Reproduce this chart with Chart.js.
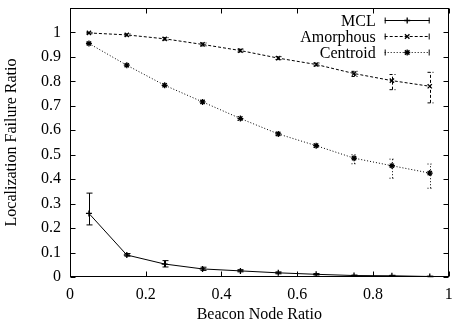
<!DOCTYPE html>
<html>
<head>
<meta charset="utf-8">
<script src="https://cdn.jsdelivr.net/npm/chart.js@4/dist/chart.umd.min.js"></script>
<style>
  html, body { margin: 0; padding: 0; background: #fff; }
  #wrap { width: 454px; height: 327px; }
</style>
</head>
<body>
<div id="wrap"><canvas id="c" width="454" height="327"></canvas></div>
<script>
// ---- data ----
const beaconRatio = [0.05, 0.15, 0.25, 0.35, 0.45, 0.55, 0.65, 0.75, 0.85, 0.95];

const mclValues = [0.26, 0.09, 0.053, 0.033, 0.025, 0.017, 0.011, 0.006, 0.005, 0.002];
const mclLow    = [0.213, 0.085, 0.041, 0.027, 0.021, 0.013, 0.008, 0.004, 0.003, 0.001];
const mclHigh   = [0.343, 0.096, 0.067, 0.040, 0.030, 0.021, 0.014, 0.008, 0.007, 0.003];

const amorphousValues = [0.998, 0.990, 0.974, 0.951, 0.926, 0.895, 0.869, 0.832, 0.803, 0.780];
const amorphousLow    = [0.995, 0.986, 0.969, 0.945, 0.920, 0.889, 0.863, 0.820, 0.766, 0.712];
const amorphousHigh   = [1.000, 0.994, 0.979, 0.957, 0.932, 0.901, 0.875, 0.841, 0.828, 0.837];

const centroidValues = [0.955, 0.866, 0.784, 0.716, 0.648, 0.585, 0.537, 0.486, 0.455, 0.425];
const centroidLow    = [0.950, 0.861, 0.778, 0.710, 0.640, 0.578, 0.530, 0.463, 0.404, 0.363];
const centroidHigh   = [0.960, 0.871, 0.790, 0.722, 0.656, 0.592, 0.544, 0.500, 0.482, 0.462];

const seriesNames = ['MCL', 'Amorphous', 'Centroid'];

const xTickValues = [0, 0.2, 0.4, 0.6, 0.8, 1];
const xTickLabels = ['0', '0.2', '0.4', '0.6', '0.8', '1'];
const yTickValues = [0, 0.1, 0.2, 0.3, 0.4, 0.5, 0.6, 0.7, 0.8, 0.9, 1];
const yTickLabels = ['0', '0.1', '0.2', '0.3', '0.4', '0.5', '0.6', '0.7', '0.8', '0.9', '1'];

const xTitle = 'Beacon Node Ratio';
const yTitle = 'Localization Failure Ratio';

// ---- build ----
function pts(vals) { return beaconRatio.map((x, i) => ({ x: x, y: vals[i] })); }

const FONT = "'Liberation Serif', 'Times New Roman', serif";
Chart.defaults.font.family = FONT;
Chart.defaults.font.size = 16;
Chart.defaults.color = '#000';

const styles = [
  { dash: [], point: 'cross' },
  { dash: [3, 2], point: 'crossRot' },
  { dash: [1, 2], point: 'star' }
];
const lows = [mclLow, amorphousLow, centroidLow];
const highs = [mclHigh, amorphousHigh, centroidHigh];
const vals = [mclValues, amorphousValues, centroidValues];

const datasets = seriesNames.map((name, i) => ({
  label: name,
  data: pts(vals[i]),
  borderColor: '#000',
  backgroundColor: '#000',
  borderWidth: 1,
  borderDash: styles[i].dash,
  pointStyle: styles[i].point,
  pointRadius: 3,
  pointBorderWidth: 1.3,
  pointBorderColor: '#000',
  pointBackgroundColor: '#000',
  tension: 0,
  errLow: lows[i],
  errHigh: highs[i]
}));

function drawMarker(ctx, style, x, y, r) {
  ctx.save();
  ctx.setLineDash([]);
  ctx.lineWidth = 1.3;
  ctx.strokeStyle = '#000';
  ctx.beginPath();
  if (style === 'cross' || style === 'star') {
    ctx.moveTo(x - r, y); ctx.lineTo(x + r, y);
    ctx.moveTo(x, y - r); ctx.lineTo(x, y + r);
  }
  if (style === 'crossRot' || style === 'star') {
    const d = r * 0.75;
    ctx.moveTo(x - d, y - d); ctx.lineTo(x + d, y + d);
    ctx.moveTo(x - d, y + d); ctx.lineTo(x + d, y - d);
  }
  ctx.stroke();
  ctx.restore();
}

const framePlugin = {
  id: 'frame',
  afterDatasetsDraw(chart) {
    const ctx = chart.ctx;
    const xs = chart.scales.x, ys = chart.scales.y;
    chart.data.datasets.forEach((ds) => {
      ctx.save();
      ctx.strokeStyle = '#000';
      ctx.lineWidth = 1;
      ctx.setLineDash(ds.borderDash || []);
      ds.data.forEach((p, i) => {
        const px = Math.round(xs.getPixelForValue(p.x)) + 0.5;
        const y1 = ys.getPixelForValue(ds.errLow[i]);
        const y2 = ys.getPixelForValue(ds.errHigh[i]);
        ctx.beginPath();
        ctx.moveTo(px, y1); ctx.lineTo(px, y2);
        ctx.moveTo(px - 3, y1); ctx.lineTo(px + 3, y1);
        ctx.moveTo(px - 3, y2); ctx.lineTo(px + 3, y2);
        ctx.stroke();
      });
      ctx.restore();
    });
  },
  afterDraw(chart) {
    const ctx = chart.ctx;
    const a = chart.chartArea;
    const xs = chart.scales.x, ys = chart.scales.y;
    const L = Math.round(a.left) + 0.5, R = Math.round(a.right) - 0.5;
    const T = Math.round(a.top) + 0.5, B = Math.round(a.bottom) - 0.5;
    ctx.save();
    ctx.strokeStyle = '#000';
    ctx.lineWidth = 1;
    ctx.setLineDash([]);
    ctx.strokeRect(L, T, R - L, B - T);
    const tl = 5;
    ctx.beginPath();
    xTickValues.forEach(v => {
      const px = Math.round(xs.getPixelForValue(v)) + 0.5;
      ctx.moveTo(px, B); ctx.lineTo(px, B - tl);
      ctx.moveTo(px, T); ctx.lineTo(px, T + tl);
    });
    yTickValues.forEach(v => {
      const py = Math.round(ys.getPixelForValue(v)) + 0.5;
      ctx.moveTo(L, py); ctx.lineTo(L + tl, py);
      ctx.moveTo(R, py); ctx.lineTo(R - tl, py);
    });
    ctx.stroke();

    // legend (gnuplot style: right-aligned text, sample on the right)
    const textRight = a.right - 73;
    const sx1 = a.right - 64, sx2 = a.right - 19;
    const rowY = [20, 36, 52];
    ctx.font = '16px ' + FONT;
    ctx.fillStyle = '#000';
    ctx.textAlign = 'right';
    ctx.textBaseline = 'middle';
    chart.data.datasets.forEach((ds, i) => {
      const y = rowY[i] + 0.5;
      ctx.fillText(ds.label, textRight, y + 1);
      ctx.setLineDash(ds.borderDash || []);
      ctx.beginPath();
      ctx.moveTo(sx1, y); ctx.lineTo(sx2, y);
      ctx.stroke();
      ctx.setLineDash([]);
      ctx.beginPath();
      ctx.moveTo(sx1 + 0.5, y - 3); ctx.lineTo(sx1 + 0.5, y + 3);
      ctx.moveTo(sx2 - 0.5, y - 3); ctx.lineTo(sx2 - 0.5, y + 3);
      ctx.stroke();
      drawMarker(ctx, ds.pointStyle, (sx1 + sx2) / 2, y, 3);
    });
    ctx.restore();
  }
};

new Chart(document.getElementById('c'), {
  type: 'line',
  data: { datasets: datasets },
  plugins: [framePlugin],
  options: {
    responsive: false,
    animation: false,
    devicePixelRatio: 1,
    layout: { padding: { top: 8, right: 2, left: 0, bottom: 0 } },
    plugins: { legend: { display: false }, tooltip: { enabled: false } },
    scales: {
      x: {
        type: 'linear', min: 0, max: 1,
        grid: { display: false, drawTicks: false },
        border: { display: false },
        afterBuildTicks: (s) => { s.ticks = xTickValues.map(v => ({ value: v })); },
        ticks: {
          padding: 8, maxRotation: 0,
          callback: (v) => xTickLabels[xTickValues.findIndex(t => Math.abs(t - v) < 1e-9)]
        },
        title: { display: true, text: xTitle, padding: { top: 4, bottom: 3 } },
        afterFit: (s) => { s.height = 50; s.paddingLeft = 0; s.paddingRight = 0; }
      },
      y: {
        type: 'linear', min: 0, max: 1.1,
        grid: { display: false, drawTicks: false },
        border: { display: false },
        afterBuildTicks: (s) => { s.ticks = yTickValues.map(v => ({ value: v })); },
        ticks: {
          padding: 9,
          callback: (v) => yTickLabels[yTickValues.findIndex(t => Math.abs(t - v) < 1e-9)]
        },
        title: { display: true, text: yTitle, padding: { top: 2, bottom: 2 } },
        afterFit: (s) => { s.width = 70; s.paddingTop = 0; s.paddingBottom = 0; }
      }
    }
  }
});
</script>
</body>
</html>
